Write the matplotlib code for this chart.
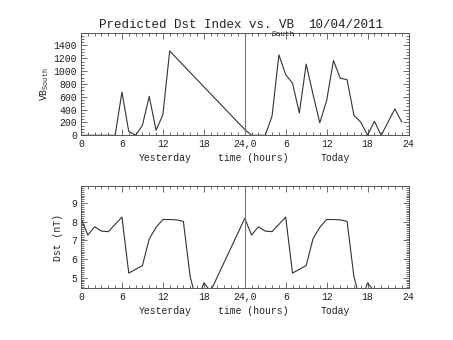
import matplotlib
matplotlib.use('Agg')
import matplotlib.pyplot as plt
from matplotlib.ticker import MultipleLocator, FixedLocator, FixedFormatter

plt.rcParams['font.family'] = ['Liberation Mono', 'DejaVu Sans Mono']
plt.rcParams['mathtext.fontset'] = 'custom'
plt.rcParams['mathtext.rm'] = 'Liberation Mono'

# hours since start of yesterday (0-48)
vb_hours = [0, 1, 2, 3, 4, 5, 6, 7, 8, 9, 10, 11, 12, 13,
            24, 25, 26, 27, 28, 29, 30, 31, 32, 33, 34, 35, 36, 37, 38, 39,
            40, 41, 42, 43, 44, 45, 46, 47]
vb_south = [0, 0, 0, 0, 0, 0, 674, 60, 0, 155, 607, 78, 320, 1314,
            90, 0, 0, 0, 300, 1255, 945, 812, 347, 1110, 640, 195, 540, 1166, 891, 866,
            313, 205, 0, 220, 0, 205, 411, 209]

dst_hours = [0, 1, 2, 3, 4, 5, 6, 7, 8, 9, 10, 11, 12, 13, 14, 15, 16, 17, 18, 19,
             24, 25, 26, 27, 28, 29, 30, 31, 32, 33, 34, 35, 36, 37, 38, 39, 40, 41, 42, 43]
dst = [8.18, 7.29, 7.73, 7.50, 7.47, 7.86, 8.25, 5.25, 5.45, 5.65, 7.08, 7.70, 8.12, 8.12,
       8.10, 8.02, 5.06, 3.67, 4.72, 4.28,
       8.18, 7.29, 7.73, 7.50, 7.47, 7.86, 8.25, 5.25, 5.45, 5.65, 7.08, 7.70, 8.12, 8.12,
       8.10, 8.02, 5.06, 3.67, 4.72, 4.28]

xtick_pos = [0, 6, 12, 18, 24, 30, 36, 42, 48]
xtick_lab = ['0', '6', '12', '18', '24,0', '6', '12', '18', '24']

line_c = '#333333'
axis_c = '#555555'
text_c = '#222222'

fig = plt.figure(figsize=(4.53, 3.40), dpi=100)
W, H = 453.0, 340.0


def setup(ax):
    ax.set_xlim(0, 48)
    ax.xaxis.set_major_locator(FixedLocator(xtick_pos))
    ax.xaxis.set_major_formatter(FixedFormatter(xtick_lab))
    ax.xaxis.set_minor_locator(MultipleLocator(1))
    ax.tick_params(which='both', direction='in', top=True, right=True,
                   colors=axis_c, labelcolor=text_c, labelsize=7, width=0.6)
    ax.tick_params(which='major', length=4, pad=3)
    ax.tick_params(which='minor', length=2)
    for s in ax.spines.values():
        s.set_color(axis_c)
        s.set_linewidth(0.7)
    ax.axvline(24, color='#777777', lw=0.8)
    for xx, t in [(12.3, 'Yesterday'), (25.2, 'time (hours)'), (37.2, 'Today')]:
        ax.annotate(t, xy=(xx, 0), xycoords=('data', 'axes fraction'),
                    xytext=(0, -16.5), textcoords='offset points',
                    ha='center', va='center', fontsize=7, color=text_c)


ax1 = fig.add_axes([81 / W, 1 - 135.3 / H, 327.5 / W, 102 / H])
ax1.plot(vb_hours, vb_south, color=line_c, lw=0.8)
ax1.set_ylim(0, 1590)
ax1.yaxis.set_major_locator(MultipleLocator(200))
ax1.yaxis.set_minor_locator(MultipleLocator(50))
setup(ax1)
ax1.set_ylabel(r'VB$_{\mathrm{South}}$', fontsize=7, color=text_c, labelpad=2)

ax2 = fig.add_axes([81 / W, 1 - 288 / H, 327.5 / W, 101.7 / H])
ax2.plot(dst_hours, dst, color=line_c, lw=0.8)
ax2.set_ylim(4.45, 9.9)
ax2.yaxis.set_major_locator(MultipleLocator(1))
ax2.yaxis.set_minor_locator(MultipleLocator(0.1))
setup(ax2)
ax2.set_ylabel('Dst (nT)', fontsize=7, color=text_c, labelpad=6)

# title with subscript, placed piece by piece
fig.text(99 / W, 1 - 28.5 / H, 'Predicted Dst Index vs. VB', fontsize=9,
         color=text_c, ha='left', va='baseline')
fig.text(271.5 / W, 1 - 35.5 / H, 'South', fontsize=5.5,
         color=text_c, ha='left', va='baseline')
fig.text(308 / W, 1 - 28.5 / H, '10/04/2011', fontsize=9,
         color=text_c, ha='left', va='baseline')

fig.savefig('out.png', dpi=100)
